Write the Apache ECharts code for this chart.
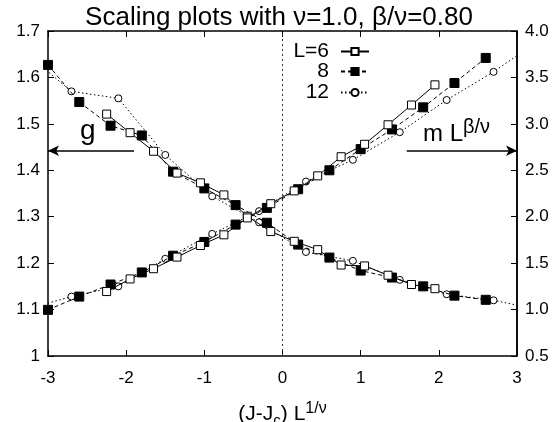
<!DOCTYPE html>
<html>
<head>
<meta charset="utf-8">
<script src="https://cdn.jsdelivr.net/npm/echarts@6/dist/echarts.min.js"></script>
<style>html,body{margin:0;padding:0;background:#fff;}#c{width:558px;height:422px;}</style>
</head>
<body>
<div id="c"></div>
<script>
// ---- data ----
var seriesNames = ['L=6', '8', '12'];
var xL6  = [-2.25,-1.95,-1.65,-1.35,-1.05,-0.75,-0.45,-0.15,0.15,0.45,0.75,1.05,1.35,1.65,1.95];
var gL6  = [1.521,1.481,1.441,1.394,1.373,1.347,1.301,1.268,1.247,1.229,1.196,1.194,1.174,1.154,1.145];
var mL6  = [1.194,1.33,1.44,1.565,1.69,1.805,1.987,2.14,2.278,2.44,2.646,2.78,2.99,3.203,3.42];
var xL8  = [-3.0,-2.6,-2.2,-1.8,-1.4,-1.0,-0.6,-0.2,0.2,0.6,1.0,1.4,1.8,2.2,2.6];
var gL8  = [1.627,1.547,1.496,1.475,1.397,1.361,1.325,1.287,1.240,1.212,1.184,1.169,1.150,1.130,1.121];
var mL8  = [0.997,1.14,1.27,1.40,1.58,1.728,1.915,2.095,2.296,2.50,2.728,2.94,3.178,3.44,3.71];
var xL12 = [-3.3,-2.7,-2.1,-1.5,-0.9,-0.3,0.3,0.9,1.5,2.1,2.7,3.3];
var gL12 = [1.655,1.570,1.555,1.433,1.344,1.288,1.224,1.205,1.164,1.133,1.120,1.099];
var mL12 = [1.0,1.14,1.25,1.547,1.815,2.06,2.379,2.613,2.91,3.257,3.56,3.91];
var xTicks = [-3,-2,-1,0,1,2,3];
var leftTicks = [1,1.1,1.2,1.3,1.4,1.5,1.6,1.7];
var rightTicks = [0.5,1.0,1.5,2.0,2.5,3.0,3.5,4.0];
// annotation arrows (data coords, left axis)
var gArrow = [[-1.9, 1.442], [-3, 1.442]];
var mArrow = [[1.59, 1.442], [3, 1.442]];
var zeroLine = [[0, 1.0], [0, 1.7]];
var rightFrame = [[3, 1.0], [3, 1.7]];

function pairs(xs, ys){ return xs.map(function(x,i){ return [x, ys[i]]; }); }

var FONT = 'Liberation Sans, Arial, Helvetica, sans-serif';
var styles = [
  {symbol:'rect', size:8, fill:'#fff', type:'solid'},
  {symbol:'rect', size:9, fill:'#000', type:[4,3]},
  {symbol:'circle', size:7, fill:'#fff', type:[1.5,2.5]}
];
var xs = [xL6, xL8, xL12], gs = [gL6, gL8, gL12], ms = [mL6, mL8, mL12];

var series = [];
// dotted zero line (drawn first, beneath data)
series.push({
  type:'line', name:'zero', data: zeroLine, xAxisIndex:0, yAxisIndex:0,
  symbol:'none', silent:true, animation:false, z:1,
  lineStyle:{color:'#333', width:1, type:[2,3]}, emphasis:{disabled:true}
});
for (var i = 0; i < 3; i++) {
  var st = styles[i];
  var base = {
    type:'line', name: seriesNames[i], symbol: st.symbol, symbolSize: st.size,
    showAllSymbol: true, clip: true, animation: false,
    lineStyle:{color:'#000', width:1, type: st.type},
    itemStyle:{color: st.fill, borderColor:'#000', borderWidth:1},
    emphasis:{disabled:true}
  };
  var g = Object.assign({}, base, {xAxisIndex:0, yAxisIndex:0, data: pairs(xs[i], gs[i]), z: 5 - i});
  var m = Object.assign({}, base, {xAxisIndex:0, yAxisIndex:1, data: pairs(xs[i], ms[i]), z: 5 - i});
  series.push(g, m);
}
// right frame edge
series.push({
  type:'line', name:'frame', data: rightFrame, xAxisIndex:0, yAxisIndex:0,
  symbol:'none', silent:true, animation:false, clip:false, z:10,
  lineStyle:{color:'#000', width:1.5, type:'solid'}, emphasis:{disabled:true}
});
// annotation arrows
series[1].markLine = {
  silent:true, animation:false, symbol:['none','arrow'], symbolSize:[8,11],
  label:{show:false},
  lineStyle:{color:'#000', width:1.6, type:'solid'},
  data:[
    [{coord:gArrow[0]}, {coord:gArrow[1]}],
    [{coord:mArrow[0]}, {coord:mArrow[1]}]
  ]
};

var legendTops = [41, 61, 82];
var legends = seriesNames.map(function(n, k){
  return {
    orient:'horizontal', right:188, top:legendTops[k], align:'right',
    itemWidth:28, itemHeight:9, itemGap:0, padding:0,
    data:[n],
    textStyle:{color:'#000', fontFamily:FONT, fontSize:21, padding:[0,7,0,0]},
    selectedMode:false
  };
});

function axLine(){ return {show:true, onZero:false, lineStyle:{color:'#000', width:1.5}}; }
function ticks(){ return {show:true, inside:true, length:6, lineStyle:{color:'#000', width:1}}; }

var chart = echarts.init(document.getElementById('c'), null, {renderer:'canvas'});
chart.setOption({
  backgroundColor:'#fff',
  animation:false,
  textStyle:{fontFamily:FONT},
  title:{
    text:'Scaling plots with ν=1.0, β/ν=0.80',
    left:'center', top:0,
    textStyle:{fontFamily:FONT, fontSize:26, fontWeight:'normal', color:'#000'}
  },
  grid:{left:48, right:41, top:31, bottom:66, containLabel:false, outerBoundsMode:'none'},
  legend: legends,
  xAxis:[{
    type:'value', min:-3, max:3, interval:1, position:'bottom',
    axisLine:axLine(),
    axisTick:ticks(),
    axisLabel:{color:'#000', fontSize:17, fontFamily:FONT, margin:14,
      formatter:function(v){ return String(Math.round(v)); }},
    splitLine:{show:false},
    name:'(J-J{sub|c}) L{sup|1/ν}', nameLocation:'middle', nameGap:45,
    nameTextStyle:{color:'#000', fontSize:21, fontFamily:FONT,
      rich:{sub:{fontSize:15, verticalAlign:'bottom', padding:[9,0,0,0], fontFamily:FONT},
            sup:{fontSize:16, verticalAlign:'top', padding:[0,0,11,0], fontFamily:FONT}}}
  },{
    type:'value', min:-3, max:3, interval:1, position:'top',
    axisLine:axLine(),
    axisTick:ticks(),
    axisLabel:{show:false}, splitLine:{show:false}
  }],
  yAxis:[{
    type:'value', min:1, max:1.7, interval:0.1, position:'left',
    axisLine:axLine(),
    axisTick:ticks(),
    axisLabel:{color:'#000', fontSize:17, fontFamily:FONT, margin:8,
      formatter:function(v){ var r = Math.round(v*10)/10; return r === 1 ? '1' : r.toFixed(1); }},
    splitLine:{show:false}
  },{
    type:'value', min:0.5, max:4.0, interval:0.5, position:'right',
    axisLine:axLine(),
    axisTick:ticks(),
    axisLabel:{color:'#000', fontSize:17, fontFamily:FONT, margin:8,
      formatter:function(v){ return (Math.round(v*10)/10).toFixed(1); }},
    splitLine:{show:false}
  }],
  graphic:[
    {type:'text', left:80, top:117, style:{text:'g', font:'28px ' + FONT, fill:'#000'}, silent:true},
    {type:'text', left:423, top:117, style:{text:'m L{sup|β/ν}', font:'24px ' + FONT, fill:'#000',
      rich:{sup:{fontSize:20, fontFamily:FONT, verticalAlign:'top', padding:[0,0,14,0]}}}, silent:true}
  ],
  series: series
});
</script>
</body>
</html>
